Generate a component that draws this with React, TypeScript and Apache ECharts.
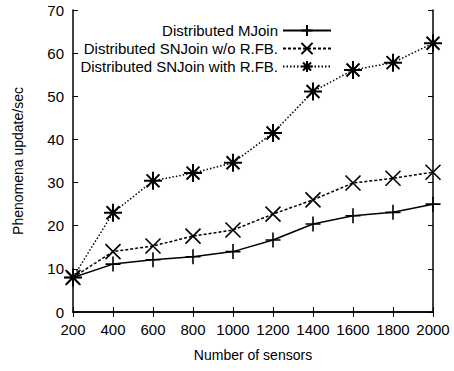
import React, { useEffect, useRef } from "react";
import * as echarts from "echarts";

const sensors = [200, 400, 600, 800, 1000, 1200, 1400, 1600, 1800, 2000];
const mjoin = [8, 11.1, 12.1, 12.8, 14, 16.7, 20.4, 22.3, 23.1, 25];
const snjoinNoRfb = [8, 14, 15.3, 17.6, 19, 22.7, 26, 29.9, 31, 32.4];
const snjoinRfb = [8, 23, 30.4, 32.2, 34.6, 41.5, 51.1, 56.1, 57.8, 62.3];
const seriesNames = [
  "Distributed MJoin",
  "Distributed SNJoin w/o R.FB.",
  "Distributed SNJoin with R.FB.",
];

const PLUS = "path://M0,-1L0,1M-1,0L1,0";
const CROSS = "path://M-1,-1L1,1M-1,1L1,-1";
const STAR = "path://M0,-1L0,1M-1,0L1,0M-0.72,-0.72L0.72,0.72M-0.72,0.72L0.72,-0.72";

const FONT = "Liberation Sans";

export default function App() {
  const ref = useRef<HTMLDivElement>(null);
  useEffect(() => {
    if (!ref.current) return;
    const chart = echarts.init(ref.current, null, { renderer: "svg" });
    const mk = (name: string, data: number[], symbol: string, size: number, type: any, bw: number) => ({
      name,
      type: "line",
      data: sensors.map((s, i) => [s, data[i]]),
      symbol,
      symbolSize: size,
      showAllSymbol: true,
      lineStyle: { color: "#000", width: 1.5, type },
      itemStyle: { color: "#000", borderColor: "#000", borderWidth: bw },
      emphasis: { disabled: true },
    });
    const axisCommon = {
      axisLine: { show: true, lineStyle: { color: "#000", width: 1.5 } },
      axisTick: { show: true, inside: true, length: 5, lineStyle: { color: "#000", width: 1 } },
      splitLine: { show: false },
    };
    chart.setOption({
      animation: false,
      backgroundColor: "#fff",
      textStyle: { fontFamily: FONT },
      grid: { left: 73, right: 21, top: 10, bottom: 59 },
      legend: {
        orient: "vertical",
        align: "right",
        right: 122,
        top: 23,
        padding: 0,
        itemWidth: 48,
        itemHeight: 14,
        itemGap: 3,
        textStyle: { fontSize: 15, color: "#000", fontFamily: FONT },
        data: seriesNames,
      },
      xAxis: [
        {
          type: "value",
          min: 200,
          max: 2000,
          interval: 200,
          name: "Number of sensors",
          nameLocation: "middle",
          nameGap: 36,
          nameTextStyle: { fontSize: 14, color: "#000", fontFamily: FONT },
          axisLabel: {
            fontSize: 15,
            color: "#000",
            margin: 10,
            fontFamily: FONT,
            formatter: (v: number) => String(v),
          },
          ...axisCommon,
        },
        {
          type: "value",
          position: "top",
          min: 200,
          max: 2000,
          interval: 200,
          axisLabel: { show: false },
          ...axisCommon,
        },
      ],
      yAxis: [
        {
          type: "value",
          min: 0,
          max: 70,
          interval: 10,
          name: "Phenomena update/sec",
          nameLocation: "middle",
          nameGap: 48,
          nameTextStyle: { fontSize: 14, color: "#000", fontFamily: FONT },
          axisLabel: { fontSize: 15, color: "#000", margin: 9, fontFamily: FONT },
          ...axisCommon,
        },
        {
          type: "value",
          position: "right",
          min: 0,
          max: 70,
          interval: 10,
          axisLabel: { show: false },
          ...axisCommon,
        },
      ],
      series: [
        mk(seriesNames[0], mjoin, PLUS, 15, "solid", 1.6),
        mk(seriesNames[1], snjoinNoRfb, CROSS, 15, [3, 2], 1.6),
        mk(seriesNames[2], snjoinRfb, STAR, 18, [1.5, 2], 2),
      ],
    });
    return () => chart.dispose();
  }, []);
  return <div ref={ref} style={{ width: 454, height: 371, position: "absolute", left: 0, top: 0 }} />;
}
